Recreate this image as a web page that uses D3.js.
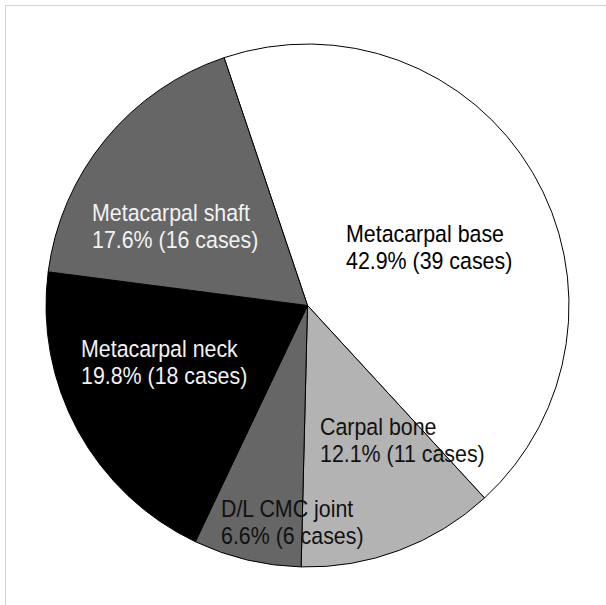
<!DOCTYPE html>
<html>
<head>
<meta charset="utf-8">
<script src="https://cdn.jsdelivr.net/npm/d3@7"></script>
<style>
  html, body { margin: 0; padding: 0; background: #fff; }
  svg { display: block; }
  text { font-family: "Liberation Sans", Arial, sans-serif; }
</style>
</head>
<body>
<svg id="chart" width="606" height="605"></svg>
<script>
// Data
const categories = ["Metacarpal base", "Carpal bone", "D/L CMC joint", "Metacarpal neck", "Metacarpal shaft"];
const cases = [39, 11, 6, 18, 16];
const percents = ["42.9%", "12.1%", "6.6%", "19.8%", "17.6%"];
const fills = ["#ffffff", "#b3b3b3", "#666666", "#000000", "#666666"];
const textColors = ["#000000", "#111111", "#111111", "#f2f2f2", "#f2f2f2"];
// label anchor positions (left edge, first baseline)
const labelX = [346, 320, 221, 81, 92];
const labelY = [242, 435, 517, 357, 221];

const svg = d3.select("#chart");
const W = 606, H = 605;
const cx = 307.5, cy = 305.5, R = 261.5;

// frame lines (top & left)
svg.append("line").attr("x1", 5.5).attr("y1", 5.5).attr("x2", W).attr("y2", 5.5)
  .attr("stroke", "#cfcfcf").attr("stroke-width", 1);
svg.append("line").attr("x1", 5.5).attr("y1", 5.5).attr("x2", 5.5).attr("y2", H)
  .attr("stroke", "#cfcfcf").attr("stroke-width", 1);

const startDeg = -18.6;
const pie = d3.pie().sort(null).value(d => d)
  .startAngle(startDeg * Math.PI / 180)
  .endAngle((startDeg + 360) * Math.PI / 180);
const arcs = pie(cases);
const arc = d3.arc().innerRadius(0).outerRadius(R);

const g = svg.append("g").attr("transform", `translate(${cx},${cy})`);
g.selectAll("path").data(arcs).join("path")
  .attr("d", arc)
  .attr("fill", (d, i) => fills[i])
  .attr("stroke", "#000")
  .attr("stroke-width", 1)
  .attr("stroke-linejoin", "round");

const fs = 23.5, sx = 0.91, lh = 27.5;
categories.forEach((c, i) => {
  const t = svg.append("text")
    .attr("transform", `translate(${labelX[i]},${labelY[i]}) scale(${sx},1)`)
    .attr("fill", textColors[i])
    .style("font-size", fs + "px");
  t.append("tspan").attr("x", 0).attr("y", 0).text(c);
  t.append("tspan").attr("x", 0).attr("y", lh / 1).text(`${percents[i]} (${cases[i]} cases)`);
});
</script>
</body>
</html>
